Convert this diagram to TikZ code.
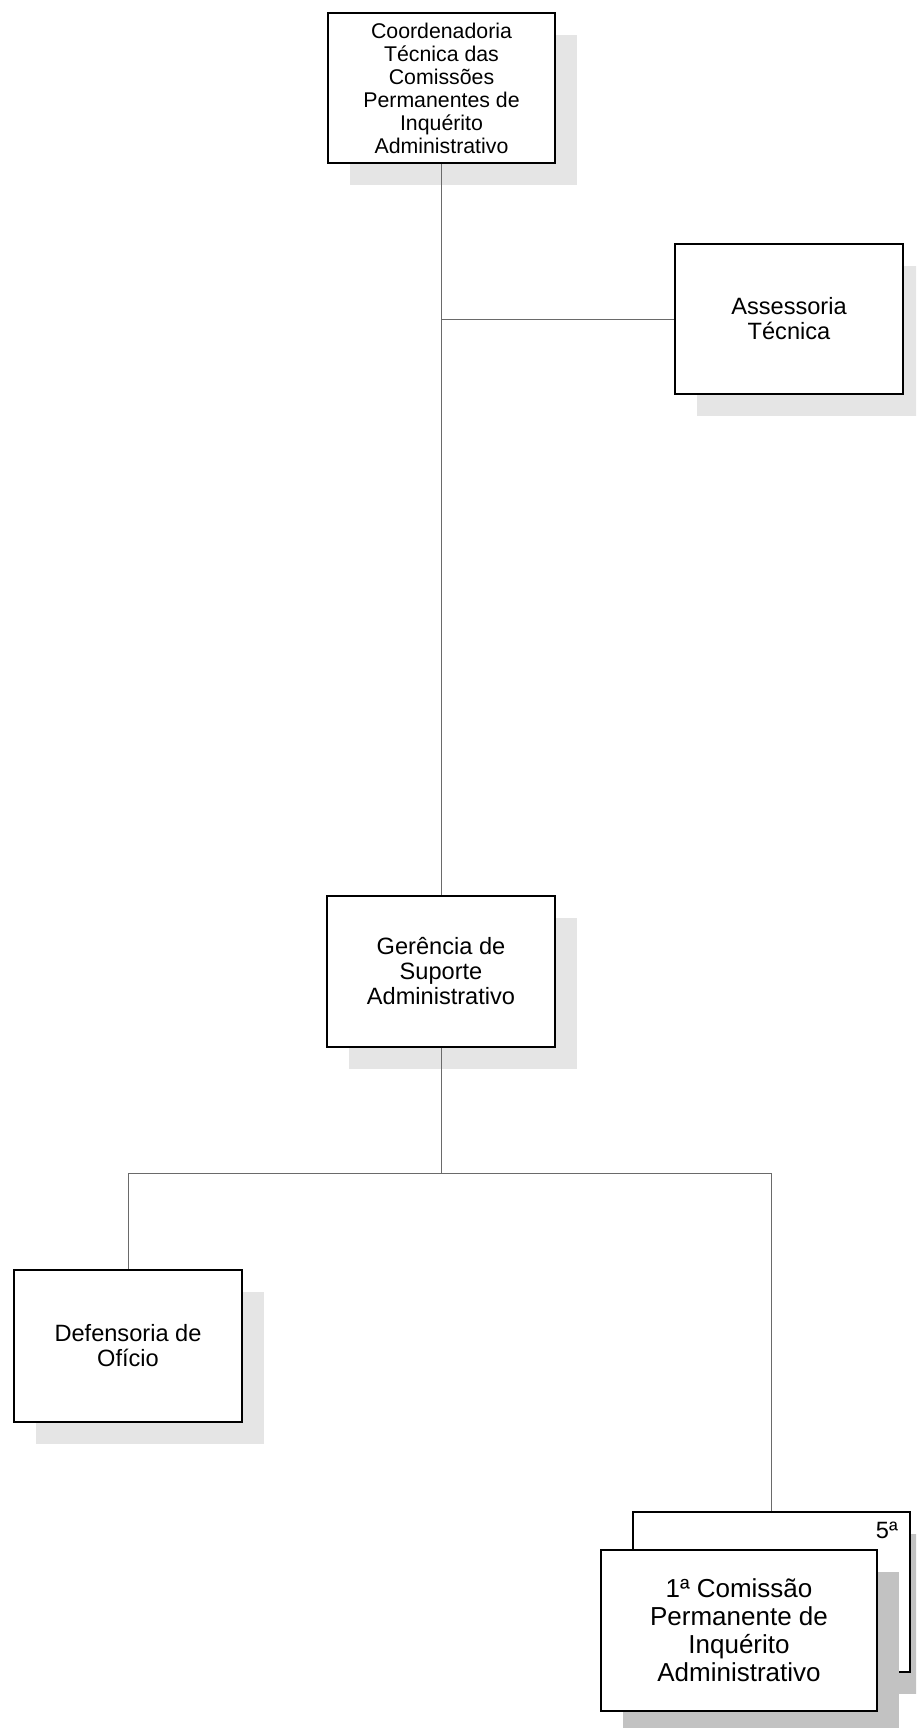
\documentclass[tikz,border=0pt]{standalone}
\usepackage{fontspec}
\setmainfont{Liberation Sans}
\usetikzlibrary{shadows}
\definecolor{shlight}{HTML}{E5E5E5}
\definecolor{shdark}{HTML}{C2C2C2}
\definecolor{conn}{HTML}{6A6A6A}
\tikzset{
  boxbase/.style={draw=black, line width=1.8pt, fill=white, rectangle, inner sep=0pt,
    align=center, minimum width=228pt, minimum height=151pt},
  lightbox/.style={boxbase, general shadow={fill=shlight, shadow xshift=22pt, shadow yshift=-22pt}},
  darkbox/.style={boxbase, general shadow={fill=shdark, shadow xshift=22pt, shadow yshift=-22pt}},
  fsmall/.style={font=\fontsize{21.3}{23}\selectfont},
  fmid/.style={font=\fontsize{23.6}{25}\selectfont},
  fbig/.style={font=\fontsize{26}{28}\selectfont},
  conline/.style={draw=conn, line width=1pt}
}
\begin{document}
\begin{tikzpicture}[x=1pt,y=-1pt]
\path[use as bounding box] (0,0) rectangle (916,1728);
\clip (0,0) rectangle (916,1728);

\node[lightbox, fsmall, minimum width=227pt, minimum height=150pt] (top) at (441.5,88)
  {Coordenadoria\\Técnica das\\Comissões\\Permanentes de\\Inquérito\\Administrativo};
\node[lightbox, fmid, minimum height=150pt] (ass) at (789,319) {Assessoria\\Técnica};
\node[lightbox, fmid] (ger) at (441,971.5) {Gerência de\\Suporte\\Administrativo};
\node[lightbox, fmid, minimum height=152pt] (def) at (128,1346) {Defensoria de\\Ofício};
\node[darkbox, minimum width=277pt, minimum height=160pt] (back) at (771.5,1592) {};
\node[fmid, inner sep=0pt, anchor=north east] (five) at (898,1522) {5ª};
\node[darkbox, fbig, minimum width=276pt, minimum height=161pt] (front) at (739,1630.5)
  {1ª Comissão\\Permanente de\\Inquérito\\Administrativo};

\coordinate (jass) at (top.south |- ass.west);
\coordinate (bus) at (441,1173);
\draw[conline] (top.south) -- (top.south |- ger.north);
\draw[conline] (jass) -- (ass.west);
\draw[conline] (ger.south) -- (bus);
\draw[conline] (def.north) |- (bus) -| (back.north);
\end{tikzpicture}
\end{document}
